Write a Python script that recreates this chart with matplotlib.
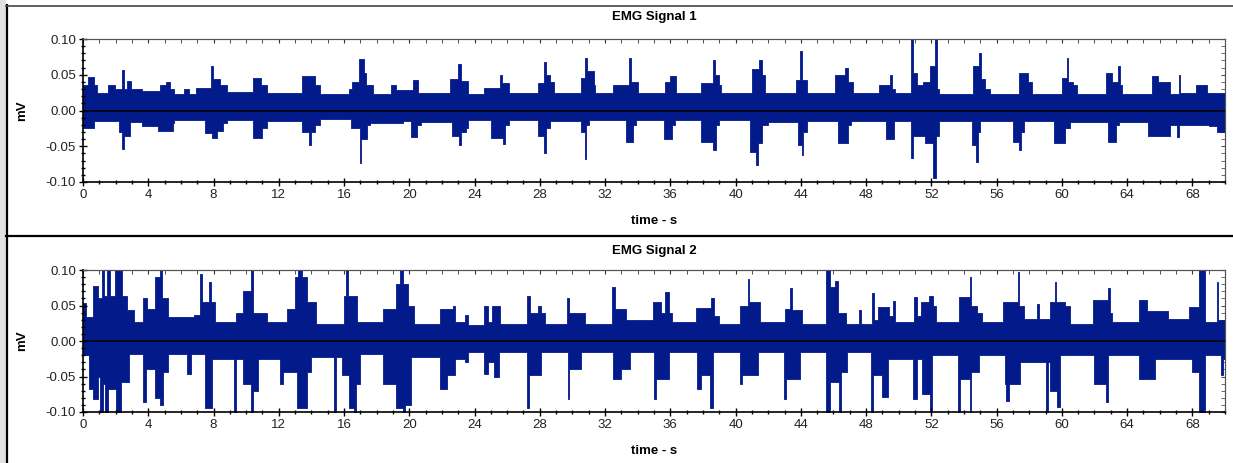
import matplotlib
matplotlib.use("Agg")
import matplotlib.pyplot as plt
from matplotlib.lines import Line2D
from matplotlib.patches import Rectangle
from matplotlib.ticker import MultipleLocator

plt.rcParams['font.family'] = ['Liberation Sans', 'DejaVu Sans']

T_END = 70.0

# envelope breakpoints (time in s, value in mV), held until the next point
sig1_upper = [
    (0, 0.035), (0.3, 0.047), (0.65, 0.035), (0.85, 0.025), (1.55, 0.035), (1.95, 0.03),
    (2.38, 0.057), (2.5, 0.03), (2.7, 0.041), (2.95, 0.03), (3.6, 0.027), (4.7, 0.035),
    (5.1, 0.04), (5.35, 0.03), (5.6, 0.023), (6.2, 0.03), (6.5, 0.023), (6.9, 0.032),
    (7.85, 0.062), (7.97, 0.044), (8.4, 0.035), (8.8, 0.026), (10.4, 0.045), (10.9, 0.035),
    (11.3, 0.025), (13.4, 0.048), (14.2, 0.035), (14.5, 0.023), (16.3, 0.03), (16.5, 0.04),
    (16.9, 0.072), (17.2, 0.053), (17.35, 0.035), (17.8, 0.023), (18.9, 0.035), (19.2, 0.028),
    (20.2, 0.042), (20.55, 0.025), (22.5, 0.044), (23.0, 0.065), (23.2, 0.041), (23.6, 0.023),
    (24.6, 0.032), (25.55, 0.049), (25.7, 0.039), (26.1, 0.024), (27.9, 0.039), (28.25, 0.068),
    (28.35, 0.05), (28.6, 0.04), (28.9, 0.025), (30.5, 0.046), (30.75, 0.074), (30.9, 0.055),
    (31.3, 0.035), (31.4, 0.025), (32.5, 0.035), (33.45, 0.074), (33.6, 0.04), (34.0, 0.025),
    (35.7, 0.04), (36.0, 0.048), (36.35, 0.025), (37.9, 0.039), (38.6, 0.07), (38.75, 0.05),
    (39.0, 0.035), (39.1, 0.024), (41.0, 0.058), (41.45, 0.071), (41.6, 0.05), (41.8, 0.025),
    (43.7, 0.043), (43.95, 0.083), (44.1, 0.043), (44.4, 0.025), (46.1, 0.05), (46.7, 0.06),
    (46.9, 0.04), (47.2, 0.025), (48.8, 0.035), (49.45, 0.05), (49.6, 0.03), (49.8, 0.025),
    (50.75, 0.12), (50.85, 0.053), (51.15, 0.035), (51.5, 0.04), (51.9, 0.062), (52.2, 0.12),
    (52.35, 0.03), (52.5, 0.023), (54.55, 0.062), (54.95, 0.08), (55.05, 0.044), (55.3, 0.03),
    (55.6, 0.023), (57.4, 0.052), (57.9, 0.04), (58.2, 0.023), (60.0, 0.045), (60.3, 0.074),
    (60.4, 0.04), (60.7, 0.035), (60.9, 0.023), (62.7, 0.053), (63.1, 0.04), (63.45, 0.062),
    (63.55, 0.035), (63.7, 0.023), (65.5, 0.048), (65.9, 0.04), (66.6, 0.023), (67.15, 0.05),
    (67.25, 0.025), (68.2, 0.035), (68.9, 0.025),
]
sig1_lower = [
    (0, -0.024), (0.65, -0.014), (2.2, -0.03), (2.4, -0.054), (2.5, -0.035), (2.9, -0.016),
    (3.6, -0.022), (4.6, -0.028), (5.5, -0.018), (5.6, -0.013), (7.5, -0.032), (7.9, -0.038),
    (8.2, -0.028), (8.6, -0.018), (8.8, -0.013), (10.4, -0.039), (11.0, -0.025), (11.3, -0.014),
    (13.4, -0.03), (13.85, -0.048), (13.95, -0.03), (14.2, -0.02), (14.5, -0.012), (16.4, -0.025),
    (16.95, -0.074), (17.05, -0.04), (17.4, -0.02), (17.6, -0.018), (19.6, -0.015), (20.1, -0.037),
    (20.5, -0.02), (20.7, -0.016), (22.6, -0.035), (23.05, -0.048), (23.2, -0.03), (23.5, -0.025),
    (23.6, -0.013), (25.0, -0.038), (25.75, -0.047), (25.85, -0.02), (26.1, -0.013), (27.9, -0.035),
    (28.25, -0.06), (28.35, -0.025), (28.6, -0.014), (30.5, -0.03), (30.75, -0.068), (30.85, -0.02),
    (31.0, -0.013), (33.3, -0.044), (33.7, -0.02), (33.9, -0.013), (35.6, -0.04), (36.1, -0.02),
    (36.3, -0.013), (37.9, -0.044), (38.6, -0.055), (38.8, -0.02), (39.0, -0.013), (40.9, -0.058),
    (41.25, -0.076), (41.35, -0.045), (41.6, -0.02), (42.0, -0.016), (43.8, -0.048), (44.05, -0.062),
    (44.15, -0.03), (44.4, -0.014), (46.3, -0.046), (46.9, -0.02), (47.1, -0.014), (49.2, -0.04),
    (49.7, -0.015), (50.75, -0.066), (50.85, -0.035), (51.6, -0.045), (52.1, -0.094), (52.3, -0.035),
    (52.5, -0.014), (54.5, -0.048), (54.75, -0.072), (54.85, -0.03), (55.0, -0.014), (57.0, -0.044),
    (57.4, -0.055), (57.5, -0.03), (57.7, -0.014), (59.5, -0.046), (60.2, -0.025), (60.5, -0.016),
    (62.8, -0.044), (63.3, -0.02), (63.5, -0.016), (65.3, -0.035), (66.6, -0.02), (67.05, -0.037),
    (67.15, -0.02), (69.0, -0.022), (69.5, -0.03),
]
sig2_upper = [
    (0, 0.053), (0.2, 0.034), (0.6, 0.078), (0.9, 0.06), (1.15, 0.12), (1.3, 0.064), (1.45, 0.12),
    (1.65, 0.064), (1.95, 0.12), (2.4, 0.064), (2.7, 0.043), (3.1, 0.027), (3.7, 0.06), (3.9, 0.045),
    (4.4, 0.09), (4.75, 0.12), (4.85, 0.06), (5.2, 0.034), (6.8, 0.036), (7.15, 0.095), (7.3, 0.055),
    (7.75, 0.083), (7.85, 0.055), (8.1, 0.027), (9.4, 0.04), (9.8, 0.07), (10.3, 0.12), (10.4, 0.04),
    (11.3, 0.027), (12.5, 0.045), (13.0, 0.09), (13.2, 0.12), (13.45, 0.09), (13.7, 0.055),
    (14.3, 0.024), (16.0, 0.064), (16.15, 0.12), (16.25, 0.064), (16.8, 0.027), (18.4, 0.045),
    (19.2, 0.08), (19.45, 0.12), (19.6, 0.08), (19.9, 0.05), (20.3, 0.024), (21.9, 0.045),
    (22.7, 0.05), (22.8, 0.027), (23.4, 0.036), (23.6, 0.022), (24.6, 0.05), (24.85, 0.027),
    (25.1, 0.05), (25.55, 0.024), (27.2, 0.064), (27.4, 0.04), (27.9, 0.05), (28.1, 0.04),
    (28.3, 0.024), (29.65, 0.06), (29.8, 0.04), (30.8, 0.024), (32.45, 0.076), (32.6, 0.045),
    (33.3, 0.029), (34.95, 0.055), (35.4, 0.04), (35.7, 0.069), (35.9, 0.04), (36.1, 0.027),
    (37.6, 0.047), (38.5, 0.06), (38.65, 0.035), (39.0, 0.024), (40.3, 0.05), (40.75, 0.088),
    (40.85, 0.055), (41.5, 0.027), (43.0, 0.045), (43.35, 0.074), (43.45, 0.043), (44.1, 0.024),
    (45.55, 0.12), (45.8, 0.076), (46.1, 0.085), (46.3, 0.04), (46.75, 0.024), (47.55, 0.043),
    (47.7, 0.024), (48.35, 0.067), (48.5, 0.03), (48.7, 0.048), (49.4, 0.035), (49.65, 0.057),
    (49.8, 0.027), (50.95, 0.062), (51.1, 0.035), (51.35, 0.055), (51.85, 0.064), (52.1, 0.05),
    (52.3, 0.027), (53.7, 0.062), (54.35, 0.09), (54.45, 0.05), (54.8, 0.04), (55.1, 0.027),
    (56.4, 0.055), (57.3, 0.097), (57.4, 0.05), (57.7, 0.031), (58.5, 0.052), (58.6, 0.031),
    (59.3, 0.055), (59.55, 0.083), (59.65, 0.055), (60.2, 0.05), (60.5, 0.024), (61.9, 0.058),
    (62.85, 0.074), (62.95, 0.04), (63.1, 0.027), (64.75, 0.058), (65.2, 0.042), (66.5, 0.031),
    (67.8, 0.048), (68.4, 0.12), (68.75, 0.027), (69.5, 0.083), (69.6, 0.029),
]
sig2_lower = [
    (0, -0.02), (0.35, -0.067), (0.6, -0.081), (0.9, -0.05), (1.05, -0.12), (1.25, -0.06),
    (1.35, -0.12), (1.55, -0.067), (2.05, -0.12), (2.35, -0.058), (2.8, -0.018), (3.7, -0.086),
    (3.85, -0.039), (4.4, -0.08), (4.7, -0.09), (4.9, -0.044), (5.2, -0.018), (6.4, -0.046),
    (6.6, -0.018), (7.5, -0.095), (7.9, -0.025), (9.25, -0.12), (9.35, -0.025), (9.8, -0.06),
    (10.3, -0.12), (10.4, -0.07), (10.7, -0.025), (12.05, -0.06), (12.25, -0.044), (13.1, -0.095),
    (13.7, -0.044), (13.95, -0.022), (15.4, -0.12), (15.5, -0.022), (15.9, -0.048), (16.3, -0.095),
    (16.6, -0.12), (16.75, -0.06), (17.0, -0.018), (18.4, -0.06), (19.2, -0.095), (19.6, -0.12),
    (19.75, -0.09), (20.1, -0.022), (21.9, -0.067), (22.3, -0.048), (22.8, -0.025), (23.4, -0.03),
    (23.6, -0.015), (24.6, -0.046), (24.85, -0.03), (25.2, -0.05), (25.5, -0.015), (27.2, -0.095),
    (27.35, -0.048), (28.1, -0.015), (29.7, -0.081), (29.8, -0.039), (30.5, -0.015), (32.5, -0.053),
    (33.0, -0.039), (33.5, -0.015), (35.0, -0.081), (35.15, -0.053), (35.95, -0.015), (37.65, -0.067),
    (37.9, -0.048), (38.45, -0.095), (38.6, -0.015), (40.25, -0.06), (40.4, -0.048), (41.4, -0.015),
    (42.95, -0.081), (43.1, -0.053), (43.95, -0.015), (45.55, -0.12), (45.8, -0.058), (46.35, -0.12),
    (46.45, -0.044), (46.8, -0.016), (48.3, -0.12), (48.45, -0.048), (48.95, -0.079), (49.35, -0.025),
    (50.9, -0.081), (51.1, -0.025), (51.45, -0.075), (51.9, -0.12), (52.05, -0.02), (53.65, -0.12),
    (53.75, -0.053), (54.35, -0.12), (54.45, -0.044), (54.9, -0.02), (56.5, -0.06), (56.6, -0.084),
    (56.75, -0.06), (57.45, -0.03), (59.05, -0.12), (59.15, -0.03), (59.3, -0.07), (59.7, -0.093),
    (59.9, -0.02), (62.0, -0.06), (62.7, -0.086), (62.85, -0.02), (64.75, -0.053), (65.7, -0.025),
    (68.0, -0.044), (68.4, -0.12), (68.8, -0.02), (69.75, -0.048), (69.85, -0.025),
]

titles = ["EMG Signal 1", "EMG Signal 2"]
x_label = "time - s"
y_label = "mV"
x_ticks = list(range(0, 69, 4))
y_ticks = [-0.10, -0.05, 0.00, 0.05, 0.10]

W, H = 1233, 463
fig = plt.figure(figsize=(W / 100, H / 100), dpi=100)
fill_col = '#031a8b'


def step_xy(pts):
    t = [p[0] for p in pts] + [T_END]
    v = [p[1] for p in pts] + [pts[-1][1]]
    return t, v


def fy(py):
    return 1 - py / H


# frame of the screenshot
fig.add_artist(Rectangle((0, 0), 6 / W, 1, transform=fig.transFigure, color='#e1e1e1', lw=0))
fig.add_artist(Line2D([6.5 / W, 6.5 / W], [0, fy(5)], transform=fig.transFigure, color='black', lw=1.6))
fig.add_artist(Line2D([6 / W, 1], [fy(5.5), fy(5.5)], transform=fig.transFigure, color='#444444', lw=1.2))
fig.add_artist(Line2D([6 / W, 1], [fy(236), fy(236)], transform=fig.transFigure, color='black', lw=1.6))

panels = [(sig1_upper, sig1_lower, 39, 182, 17, 221),
          (sig2_upper, sig2_lower, 270, 412, 251, 451)]

for k, (up, lo, top, bot, ty, xly) in enumerate(panels):
    ax = fig.add_axes([83 / W, fy(bot), (1225 - 83) / W, (bot - top) / H])
    tu, vu = step_xy(up)
    tl, vl = step_xy(lo)
    ax.fill_between(tu, 0, vu, step='post', color=fill_col, lw=0.6, edgecolor=fill_col)
    ax.fill_between(tl, vl, 0, step='post', color=fill_col, lw=0.6, edgecolor=fill_col)
    ax.axhline(0, color='black', lw=1.1, zorder=5)
    ax.set_xlim(0, T_END)
    ax.set_ylim(-0.1, 0.1)
    ax.set_xticks(x_ticks)
    ax.set_yticks(y_ticks)
    ax.set_yticklabels(['%.2f' % v for v in y_ticks])
    ax.xaxis.set_minor_locator(MultipleLocator(1))
    ax.yaxis.set_minor_locator(MultipleLocator(0.01))
    ax.tick_params(which='both', direction='inout', top=False, right=False,
                   labelsize=9.5, colors='black', labelcolor='#222222', pad=2)
    ax.tick_params(which='major', length=6, width=1)
    ax.tick_params(which='minor', length=3.5, width=1)
    for s in ['left', 'bottom']:
        ax.spines[s].set_linewidth(1.2)
    for s in ['top', 'right']:
        ax.spines[s].set_color('#555555')

    # inward-only ticks on the top and right edges
    sx = ax.secondary_xaxis('top')
    sx.set_xticks(x_ticks)
    sx.xaxis.set_minor_locator(MultipleLocator(1))
    sx.tick_params(which='both', direction='in', labeltop=False, length=3, colors='#333333')
    sy = ax.secondary_yaxis('right')
    sy.set_yticks(y_ticks)
    sy.yaxis.set_minor_locator(MultipleLocator(0.01))
    sy.tick_params(which='both', direction='in', labelright=False, length=3, colors='#555555')
    sx.spines['top'].set_color('#555555')
    sy.spines['right'].set_color('#555555')

    fig.text(654 / W, fy(ty), titles[k], ha='center', va='center', fontsize=9.5, fontweight='bold')
    fig.text(654 / W, fy(xly), x_label, ha='center', va='center', fontsize=9.5, fontweight='bold')
    fig.text(22 / W, fy((top + bot) / 2), y_label, ha='center', va='center', rotation=90,
             fontsize=9.5, fontweight='bold')

fig.savefig('out.png', dpi=100)
